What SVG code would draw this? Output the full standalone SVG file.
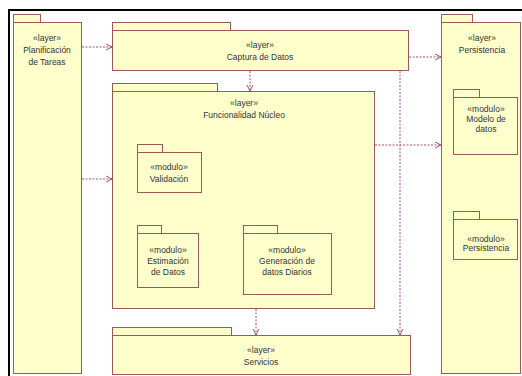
<svg xmlns="http://www.w3.org/2000/svg" width="522" height="376" viewBox="0 0 522 376">
<style>
.pk{fill:#ffffcc;stroke:#9b5a5a;stroke-width:1}
.t{font-family:"Liberation Sans",Arial,sans-serif;font-size:8.5px;fill:#333;text-anchor:middle}
.c{fill:none;stroke:#a0507a;stroke-width:1;stroke-dasharray:2,1.5}
</style>
<defs>
<marker id="ah" markerWidth="8" markerHeight="8" refX="7" refY="4" orient="auto" markerUnits="userSpaceOnUse">
<path d="M1,1 L7,4 L1,7" fill="none" stroke="#a0507a" stroke-width="1"/>
</marker>
</defs>
<rect x="0" y="0" width="522" height="376" fill="#fff"/>
<path d="M9,376 V10 H522" fill="none" stroke="#000" stroke-width="2"/>

<g id="planificacion">
<rect class="pk" x="13.5" y="14.5" width="27" height="8"/>
<rect class="pk" x="13.5" y="22.5" width="68" height="351"/>
<text class="t" x="47" y="41">«layer»</text>
<text class="t" x="47" y="53">Planificación</text>
<text class="t" x="47" y="65">de Tareas</text>
</g>

<g id="captura">
<rect class="pk" x="112.5" y="22.5" width="118" height="8"/>
<rect class="pk" x="112.5" y="30.5" width="296" height="40"/>
<text class="t" x="260" y="48">«layer»</text>
<text class="t" x="260" y="60">Captura de Datos</text>
</g>

<g id="funcionalidad">
<rect class="pk" x="112.5" y="83.5" width="105" height="8"/>
<rect class="pk" x="112.5" y="91.5" width="262" height="217"/>
<text class="t" x="244" y="106">«layer»</text>
<text class="t" x="244" y="118">Funcionalidad Núcleo</text>
</g>

<g id="validacion">
<rect class="pk" x="137.5" y="144.5" width="25" height="8"/>
<rect class="pk" x="137.5" y="152.5" width="64" height="40"/>
<text class="t" x="169" y="170">«modulo»</text>
<text class="t" x="169" y="182">Validación</text>
</g>

<g id="estimacion">
<rect class="pk" x="137.5" y="225.5" width="24" height="8"/>
<rect class="pk" x="137.5" y="233.5" width="61" height="54"/>
<text class="t" x="168" y="253">«modulo»</text>
<text class="t" x="168" y="264">Estimación</text>
<text class="t" x="168" y="275">de Datos</text>
</g>

<g id="generacion">
<rect class="pk" x="243.5" y="225.5" width="34" height="8"/>
<rect class="pk" x="243.5" y="233.5" width="88" height="61"/>
<text class="t" x="287" y="253">«modulo»</text>
<text class="t" x="287" y="264">Generación de</text>
<text class="t" x="287" y="275">datos Diarios</text>
</g>

<g id="servicios">
<rect class="pk" x="112.5" y="327.5" width="119" height="8"/>
<rect class="pk" x="112.5" y="335.5" width="298" height="39"/>
<text class="t" x="261" y="353">«layer»</text>
<text class="t" x="261" y="365">Servicios</text>
</g>

<g id="persistencia-layer">
<rect class="pk" x="441.5" y="14.5" width="31" height="8"/>
<rect class="pk" x="441.5" y="22.5" width="79" height="351"/>
<text class="t" x="482" y="41">«layer»</text>
<text class="t" x="482" y="53">Persistencia</text>
</g>

<g id="modelo-datos">
<rect class="pk" x="453.5" y="89.5" width="26" height="8"/>
<rect class="pk" x="453.5" y="97.5" width="64" height="57"/>
<text class="t" x="486" y="112">«modulo»</text>
<text class="t" x="486" y="122">Modelo de</text>
<text class="t" x="486" y="132">datos</text>
</g>

<g id="persistencia-modulo">
<rect class="pk" x="453.5" y="211.5" width="26" height="8"/>
<rect class="pk" x="453.5" y="219.5" width="64" height="40"/>
<text class="t" x="486" y="242">«modulo»</text>
<text class="t" x="486" y="251">Persistencia</text>
</g>

<g id="connectors">
<line class="c" x1="82" y1="47" x2="112" y2="47" marker-end="url(#ah)"/>
<line class="c" x1="82" y1="179" x2="112" y2="179" marker-end="url(#ah)"/>
<line class="c" x1="250" y1="71" x2="250" y2="91" marker-end="url(#ah)"/>
<line class="c" x1="409" y1="57" x2="441" y2="57" marker-end="url(#ah)"/>
<line class="c" x1="375" y1="145" x2="441" y2="145" marker-end="url(#ah)"/>
<line class="c" x1="400" y1="71" x2="400" y2="335" marker-end="url(#ah)"/>
<line class="c" x1="256" y1="309" x2="256" y2="335" marker-end="url(#ah)"/>
</g>
</svg>
